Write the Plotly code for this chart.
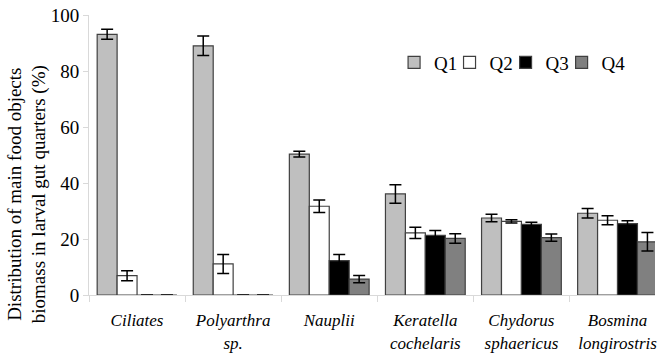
import plotly.graph_objects as go

categories = ["<i>Ciliates</i>", "<i>Polyarthra<br>sp.</i>", "<i>Nauplii</i>",
              "<i>Keratella<br>cochelaris</i>", "<i>Chydorus<br>sphaericus</i>",
              "<i>Bosmina<br>longirostris</i>"]
series_names = ["Q1", "Q2", "Q3", "Q4"]
q1 = [93.1, 89.0, 50.3, 36.1, 27.5, 29.2]
q1_err = [1.8, 3.5, 1.0, 3.3, 1.3, 1.7]
q2 = [6.9, 11.1, 31.7, 22.2, 26.3, 26.7]
q2_err = [1.8, 3.4, 2.2, 2.0, 0.6, 1.6]
q3 = [0, 0, 12.3, 21.3, 25.2, 25.5]
q3_err = [0, 0, 2.2, 1.7, 0.8, 1.0]
q4 = [0, 0, 5.7, 20.2, 20.5, 19.0]
q4_err = [0, 0, 1.3, 1.7, 1.3, 3.3]
colors = ["#bfbfbf", "#ffffff", "#000000", "#808080"]
y_ticks = [0, 20, 40, 60, 80, 100]
y_title = "Distribution of main food objects<br>biomass in larval gut quarters (%)"

font = "Times New Roman, Liberation Serif, DejaVu Serif, serif"
legend_ids = ["legend", "legend2", "legend3", "legend4"]
legend_x = [0.539, 0.637, 0.736, 0.835]

fig = go.Figure()
for name, vals, errs, col, lid in zip(series_names, [q1, q2, q3, q4],
                                      [q1_err, q2_err, q3_err, q4_err], colors, legend_ids):
    fig.add_trace(go.Bar(
        name=name, x=categories, y=vals, legend=lid,
        marker=dict(color=col, line=dict(color="#404040", width=1.2)),
        error_y=dict(type="data", array=errs, visible=True,
                     color="#000000", thickness=1.5, width=6),
    ))

legend_style = dict(orientation="h", y=0.83, xanchor="left", yanchor="middle",
                    font=dict(family=font, size=19), itemwidth=30,
                    bgcolor="rgba(0,0,0,0)")
layout_legends = {lid: dict(x=lx, **legend_style) for lid, lx in zip(legend_ids, legend_x)}

fig.update_layout(
    barmode="group", bargap=0.17, bargroupgap=0,
    width=657, height=357,
    margin=dict(l=89, r=0, t=15, b=62),
    paper_bgcolor="white", plot_bgcolor="white",
    font=dict(family=font, size=17, color="#000000"),
    showlegend=True,
    annotations=[dict(text=y_title, textangle=-90, xref="paper", yref="paper",
                      x=0, y=0.36, xanchor="center", yanchor="middle",
                      xshift=-62, showarrow=False,
                      font=dict(family=font, size=19, color="#000000"))],
    **layout_legends,
)
fig.update_xaxes(
    range=[-0.5, 5.39], showline=True, linecolor="#d9d9d9", linewidth=1,
    ticks="outside", tickson="boundaries", ticklen=6, tickcolor="#d9d9d9",
    tickfont=dict(family=font, size=17), showgrid=False, zeroline=False,
    layer="below traces", ticklabelstandoff=10,
)
fig.update_yaxes(
    range=[0, 100], tickvals=y_ticks, showline=True, linecolor="#d9d9d9",
    linewidth=1, ticks="outside", ticklen=5, tickcolor="#d9d9d9",
    showgrid=False, zeroline=False, tickfont=dict(family=font, size=19),
    layer="below traces",
)
fig.write_html("out.html")
